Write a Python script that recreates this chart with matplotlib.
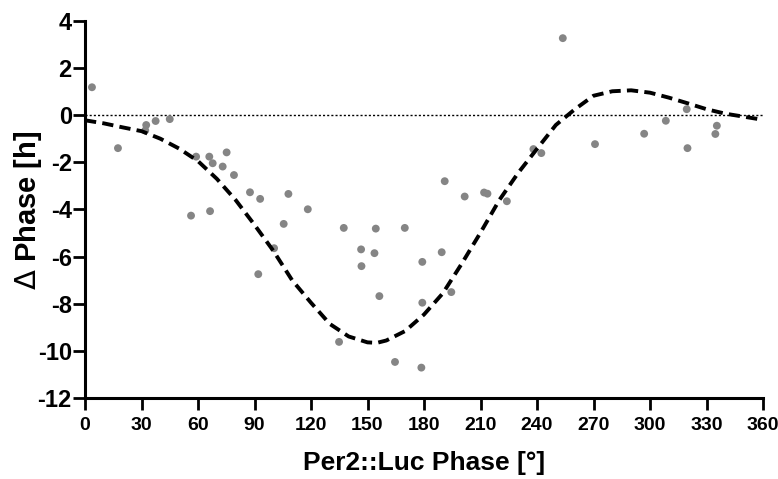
import matplotlib
matplotlib.use("Agg")
import matplotlib.pyplot as plt

plt.rcParams["axes.unicode_minus"] = False
plt.rcParams["mathtext.fontset"] = "dejavusans"

# Data
pts_x = [3.7, 17.5, 32.5, 32.0, 37.5, 45, 59, 66, 67.8, 75.2, 73.1, 79.1, 87.6, 93,
         56.3, 66.4, 108, 118.3, 105.5, 137.4, 146.6, 146.8, 100.4, 92, 134.9,
         154.4, 169.8, 191, 201.6, 211.9, 213.7, 224, 153.7, 189.4, 179.1, 156.3,
         194.5, 179.1, 164.6, 178.6, 253.7, 238.1, 242.3, 270.8, 296.9, 308.4,
         319.5, 319.9, 335.5, 334.7]
pts_y = [1.18, -1.4, -0.42, -0.65, -0.25, -0.17, -1.76, -1.76, -2.04, -1.58, -2.18, -2.54,
         -3.27, -3.55, -4.26, -4.07, -3.34, -3.99, -4.61, -4.78, -5.69, -6.4, -5.64,
         -6.74, -9.61, -4.81, -4.78, -2.8, -3.45, -3.28, -3.33, -3.65, -5.85, -5.81,
         -6.22, -7.67, -7.5, -7.95, -10.46, -10.7, 3.26, -1.44, -1.61, -1.23, -0.79,
         -0.24, 0.25, -1.4, -0.45, -0.8]

fit_x = [0, 10, 20, 30, 40, 50, 60, 70, 80, 90, 100, 110, 120, 130, 140, 150, 155,
         160, 170, 180, 190, 200, 210, 220, 230, 240, 250, 260, 270, 280, 290, 300,
         310, 320, 330, 340, 350, 360]
fit_y = [-0.22, -0.35, -0.52, -0.68, -1.0, -1.42, -1.95, -2.7, -3.6, -4.65, -5.75,
         -7.0, -7.95, -8.85, -9.38, -9.63, -9.65, -9.55, -9.15, -8.45, -7.55, -6.3,
         -4.98, -3.6, -2.45, -1.43, -0.42, 0.24, 0.82, 1.01, 1.05, 0.95, 0.74, 0.5,
         0.25, 0.06, -0.07, -0.2]

x_ticks = list(range(0, 361, 30))
y_ticks = list(range(-12, 5, 2))

W, H = 778, 479
fig = plt.figure(figsize=(W/100, H/100), dpi=100)
ax = fig.add_axes([85/W, 1-398.3/H, (763-85)/W, (398.3-20.7)/H])

ax.axhline(0, color="black", lw=1.0, ls=(0, (1.5, 1.5)), zorder=1)
ax.plot(fit_x, fit_y, color="black", lw=2.8, ls=(0, (2.9, 1.6)), zorder=3)
ax.scatter(pts_x, pts_y, s=32, color="#858585", edgecolors="none", zorder=2)

ax.set_xlim(0, 360)
ax.set_ylim(-12, 4)
ax.set_xticks(x_ticks)
ax.set_yticks(y_ticks)
for s in ["top", "right"]:
    ax.spines[s].set_visible(False)
for s in ["left", "bottom"]:
    ax.spines[s].set_linewidth(2.2)
ax.tick_params(axis="both", width=2, length=8.5, direction="out")
ax.tick_params(axis="x", pad=5)
ax.tick_params(axis="y", pad=1)

for lab in ax.get_xticklabels():
    lab.set_family(["Liberation Sans", "DejaVu Sans"]); lab.set_fontweight("bold"); lab.set_fontsize(14)
for lab in ax.get_yticklabels():
    lab.set_family(["Liberation Sans", "DejaVu Sans"]); lab.set_fontweight("bold"); lab.set_fontsize(17)

ax.set_xlabel("Per2::Luc Phase [°]", family=["Liberation Sans", "DejaVu Sans"],
              fontweight="bold", fontsize=19)
ax.xaxis.set_label_coords((424-85)/(763-85), -(470-398.3)/(398.3-20.7), transform=ax.transAxes)
ax.xaxis.label.set_va("baseline")
ax.set_ylabel(r"$\Delta$ Phase [h]", family=["Liberation Sans", "DejaVu Sans"],
              fontweight="bold", fontsize=21)
ax.yaxis.set_label_coords(-(85-28)/(763-85), (398.3-210)/(398.3-20.7), transform=ax.transAxes)
ax.yaxis.label.set_va("center")

fig.savefig("out.png", dpi=100)
